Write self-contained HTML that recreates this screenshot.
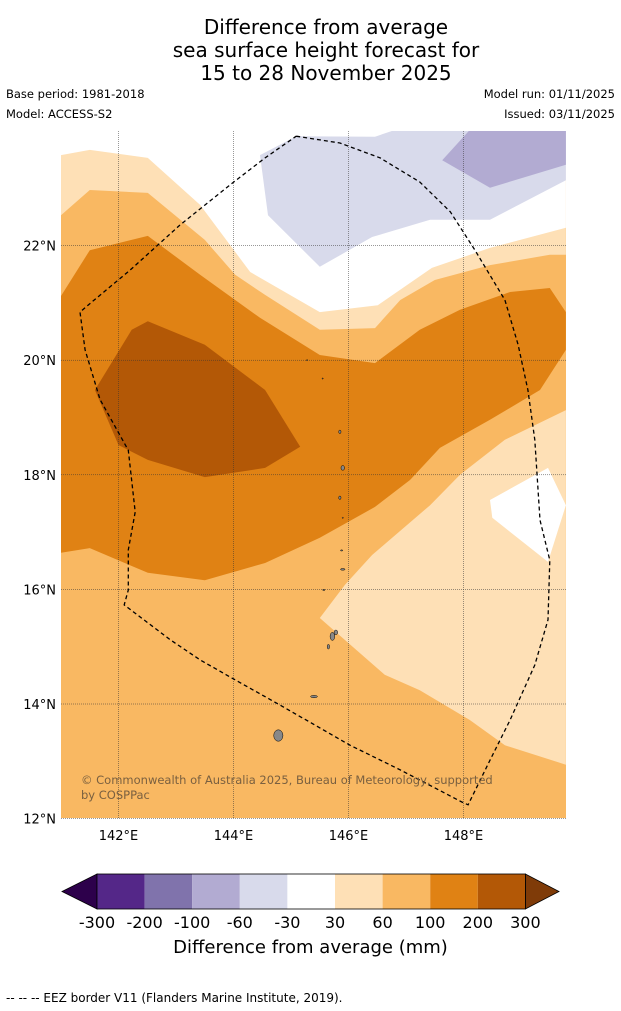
<!DOCTYPE html>
<html><head><meta charset="utf-8"><style>
body{margin:0;background:#fff;width:621px;height:1011px;overflow:hidden;font-family:"DejaVu Sans","Liberation Sans",sans-serif}
.t{position:absolute;white-space:nowrap;color:#000}
svg text{font-family:"DejaVu Sans","Liberation Sans",sans-serif}
</style></head><body>
<div class="t" style="left:0;width:652px;top:16px;text-align:center;font-size:20px;line-height:23px">Difference from average<br>sea surface height forecast for<br>15 to 28 November 2025</div>
<div class="t" style="left:6px;top:87px;font-size:11.5px">Base period: 1981-2018</div>
<div class="t" style="left:6px;top:107px;font-size:11.5px">Model: ACCESS-S2</div>
<div class="t" style="right:6px;top:87px;font-size:11.5px">Model run: 01/11/2025</div>
<div class="t" style="right:6px;top:107px;font-size:11.5px">Issued: 03/11/2025</div>
<svg id="map" width="621" height="1011" style="position:absolute;left:0;top:0" xmlns="http://www.w3.org/2000/svg">
<defs><clipPath id="clip"><rect x="61" y="131" width="505" height="687"/></clipPath></defs>
<g id="fills" clip-path="url(#clip)"></g>
<g id="grid"></g>
<g id="eez"></g>
<g id="isl"></g>
<g id="ticks"></g>
</svg>
<div class="t" style="left:81px;top:773px;font-size:11.5px;color:#7a6040;line-height:15px">© Commonwealth of Australia 2025, Bureau of Meteorology, supported<br>by COSPPac</div>
<svg width="621" height="100" style="position:absolute;left:0;top:865px" xmlns="http://www.w3.org/2000/svg" id="cb"></svg>
<div class="t" style="left:0;width:621px;text-align:center;top:937px;font-size:18px">Difference from average (mm)</div>
<div class="t" style="left:6px;top:991px;font-size:12px">--  --  -- EEZ border V11 (Flanders Marine Institute, 2019).</div>
<script>
const lonTicks=[142,144,146,148];
const latTicks=[12,14,16,18,20,22];
const levels=[-300,-200,-100,-60,-30,30,60,100,200,300];
const colors=['#2d004b','#542788','#8073ac','#b2abd2','#d8daeb','#ffffff','#fee0b6','#f9b862','#e08214','#b35806','#7f3b08'];
const paleTop=[[141,24.02],[141,22.53],[141.5,22.97],[142.51,22.92],[143.5,22.1],[144.03,21.49],[144.55,21.14],[145.5,20.53],[146.46,20.56],[146.9,21.05],[147.5,21.4],[148.46,21.66],[149.5,21.84],[149.78,21.84],[149.78,24.02]];
const whiteTop=[[141,24.02],[141,23.58],[141.5,23.67],[142.51,23.53],[143.42,22.71],[144.29,21.54],[145.5,20.84],[146.51,20.96],[147.45,21.61],[148.46,21.96],[149.78,22.31],[149.78,24.02]];
const lavender=[[144.46,23.58],[145.09,23.91],[146.46,23.9],[146.81,24.02],[149.78,24.02],[149.78,23.14],[148.46,22.45],[147.42,22.45],[146.41,22.15],[145.5,21.63],[144.6,22.53]];
const purple=[[147.63,23.49],[148.11,24.02],[149.78,24.02],[149.78,23.41],[148.46,23.01]];
const whiteRight=[[148.46,17.56],[149.47,18.12],[149.78,17.47],[149.47,16.48],[148.5,17.25]];
const paleRight=[[145.5,15.5],[145.94,16.08],[146.41,16.6],[147.42,17.47],[147.94,18.0],[148.72,18.61],[149.78,19.13],[149.78,12.94],[148.72,13.28],[148.11,13.72],[147.24,14.24],[146.63,14.51]];
const darkOrange=[[141,21.12],[141.5,21.92],[142.51,22.17],[143.42,21.49],[144.46,20.74],[145.5,20.09],[146.46,19.95],[147.24,20.53],[147.94,20.88],[148.81,21.19],[149.5,21.26],[149.78,20.84],[149.78,20.18],[149.33,19.48],[148.46,18.96],[147.59,18.47],[147.07,17.91],[146.46,17.44],[145.5,16.9],[144.55,16.46],[143.5,16.16],[142.51,16.29],[141.5,16.72],[141,16.64]];
const brown=[[141.59,19.48],[142.23,20.53],[142.51,20.68],[143.5,20.27],[144.55,19.48],[145.16,18.49],[144.55,18.12],[143.5,17.96],[142.51,18.26],[142.0,18.52]];
const eezBorder=[[145.09,23.91],[145.85,23.79],[146.55,23.53],[147.24,23.11],[147.77,22.59],[148.2,21.92],[148.72,21.05],[148.95,20.27],[149.12,19.48],[149.24,18.61],[149.33,17.21],[149.5,16.51],[149.47,15.47],[149.24,14.68],[148.81,13.72],[148.46,13.02],[148.08,12.24],[147.97,12.29],[146.9,12.85],[146.03,13.28],[144.81,13.98],[144.03,14.42],[143.42,14.77],[142.9,15.12],[142.1,15.73],[142.17,15.99],[142.17,16.69],[142.29,17.35],[142.17,18.43],[141.68,19.31],[141.42,20.18],[141.33,20.84],[141.47,20.96],[142.2,21.57],[143.07,22.36],[143.94,23.06],[144.55,23.53],[145.09,23.91]];
const islands=[[144.78,13.45,0.08,0.1],[145.72,15.18,0.04,0.07],[145.65,15.0,0.02,0.04],[145.4,14.13,0.06,0.02],[145.78,15.25,0.03,0.04],[145.85,17.6,0.02,0.03],[145.88,16.68,0.02,0.01],[145.9,18.12,0.03,0.04],[145.85,18.75,0.02,0.03],[145.57,15.99,0.02,0.01],[145.55,19.68,0.01,0.01],[145.28,20.0,0.01,0.01],[145.9,16.35,0.04,0.015],[145.9,17.25,0.01,0.01]];
const X=lon=>61+(lon-141)*57.5;
const Y=lat=>131+(24-lat)*57.3;
const NS='http://www.w3.org/2000/svg';
function poly(parent,pts,fill,name){const p=document.createElementNS(NS,'polygon');p.setAttribute('points',pts.map(q=>X(q[0]).toFixed(1)+','+Y(q[1]).toFixed(1)).join(' '));p.setAttribute('fill',fill);


parent.appendChild(p);}
const F=document.getElementById('fills');
const bg=document.createElementNS(NS,'rect');bg.setAttribute('x',61);bg.setAttribute('y',131);bg.setAttribute('width',505);bg.setAttribute('height',687);bg.setAttribute('fill',colors[7]);


F.appendChild(bg);
poly(F,paleTop,colors[6],'contour-30-60-north');
poly(F,whiteTop,colors[5],'contour-neutral-north');
poly(F,lavender,colors[4],'contour-neg60-neg30');
poly(F,purple,colors[3],'contour-neg100-neg60');
poly(F,paleRight,colors[6],'contour-30-60-southeast');
poly(F,whiteRight,colors[5],'contour-neutral-east');
poly(F,darkOrange,colors[8],'contour-100-200');
poly(F,brown,colors[9],'contour-200-300');
const G=document.getElementById('grid'),T=document.getElementById('ticks');
lonTicks.forEach(l=>{const ln=document.createElementNS(NS,'line');ln.setAttribute('x1',X(l));ln.setAttribute('x2',X(l));ln.setAttribute('y1',131);ln.setAttribute('y2',818);ln.setAttribute('stroke','#333');ln.setAttribute('stroke-width','0.5');ln.setAttribute('stroke-dasharray','1,1');


G.appendChild(ln);
const t=document.createElementNS(NS,'text');t.setAttribute('x',X(l));t.setAttribute('y',840);t.setAttribute('text-anchor','middle');t.setAttribute('font-size','13');t.textContent=l+'°E';


T.appendChild(t);});
latTicks.forEach(l=>{const ln=document.createElementNS(NS,'line');ln.setAttribute('x1',61);ln.setAttribute('x2',566);ln.setAttribute('y1',Y(l));ln.setAttribute('y2',Y(l));ln.setAttribute('stroke','#333');ln.setAttribute('stroke-width','0.5');ln.setAttribute('stroke-dasharray','1,1');


G.appendChild(ln);
const t=document.createElementNS(NS,'text');t.setAttribute('x',56);t.setAttribute('y',Y(l)+5);t.setAttribute('text-anchor','end');t.setAttribute('font-size','13');t.textContent=l+'°N';


T.appendChild(t);});
const E=document.createElementNS(NS,'polyline');E.setAttribute('points',eezBorder.map(q=>X(q[0]).toFixed(1)+','+Y(q[1]).toFixed(1)).join(' '));E.setAttribute('fill','none');E.setAttribute('stroke','#000');E.setAttribute('stroke-width','1.3');E.setAttribute('stroke-dasharray','4,3');


document.getElementById('eez').appendChild(E);
const I=document.getElementById('isl');
islands.forEach(q=>{const e=document.createElementNS(NS,'ellipse');e.setAttribute('cx',X(q[0]));e.setAttribute('cy',Y(q[1]));e.setAttribute('rx',q[2]*57.5);e.setAttribute('ry',q[3]*57.3);e.setAttribute('fill','#888');e.setAttribute('stroke','#000');e.setAttribute('stroke-width','0.5');


I.appendChild(e);});
const C=document.getElementById('cb');
const cx0=97,cw=47.6,cy=9,ch=35;
const CX=i=>cx0+i*cw;
function add(tag,attrs,name){const e=document.createElementNS(NS,tag);for(const k in attrs)e.setAttribute(k,attrs[k]);


C.appendChild(e);return e;}
add('polygon',{points:`${CX(0)},${cy} ${CX(0)},${cy+ch} 62,${cy+ch/2}`,fill:colors[0],stroke:'#000','stroke-width':0.8},'colorbar-extend-low');
for(let i=0;i<levels.length-1;i++)add('rect',{x:CX(i),y:cy,width:cw,height:ch,fill:colors[i+1]},'colorbar-segment');
const last=CX(levels.length-1);
add('polygon',{points:`${last},${cy} ${last},${cy+ch} 559,${cy+ch/2}`,fill:colors[10],stroke:'#000','stroke-width':0.8},'colorbar-extend-high');
add('rect',{x:CX(0),y:cy,width:last-CX(0),height:ch,fill:'none',stroke:'#000','stroke-width':0.8},'colorbar-frame');
levels.forEach((v,i)=>{const t=add('text',{x:CX(i),y:63,'text-anchor':'middle','font-size':16},'colorbar-tick-label');t.textContent=v;});
</script>
</body></html>
